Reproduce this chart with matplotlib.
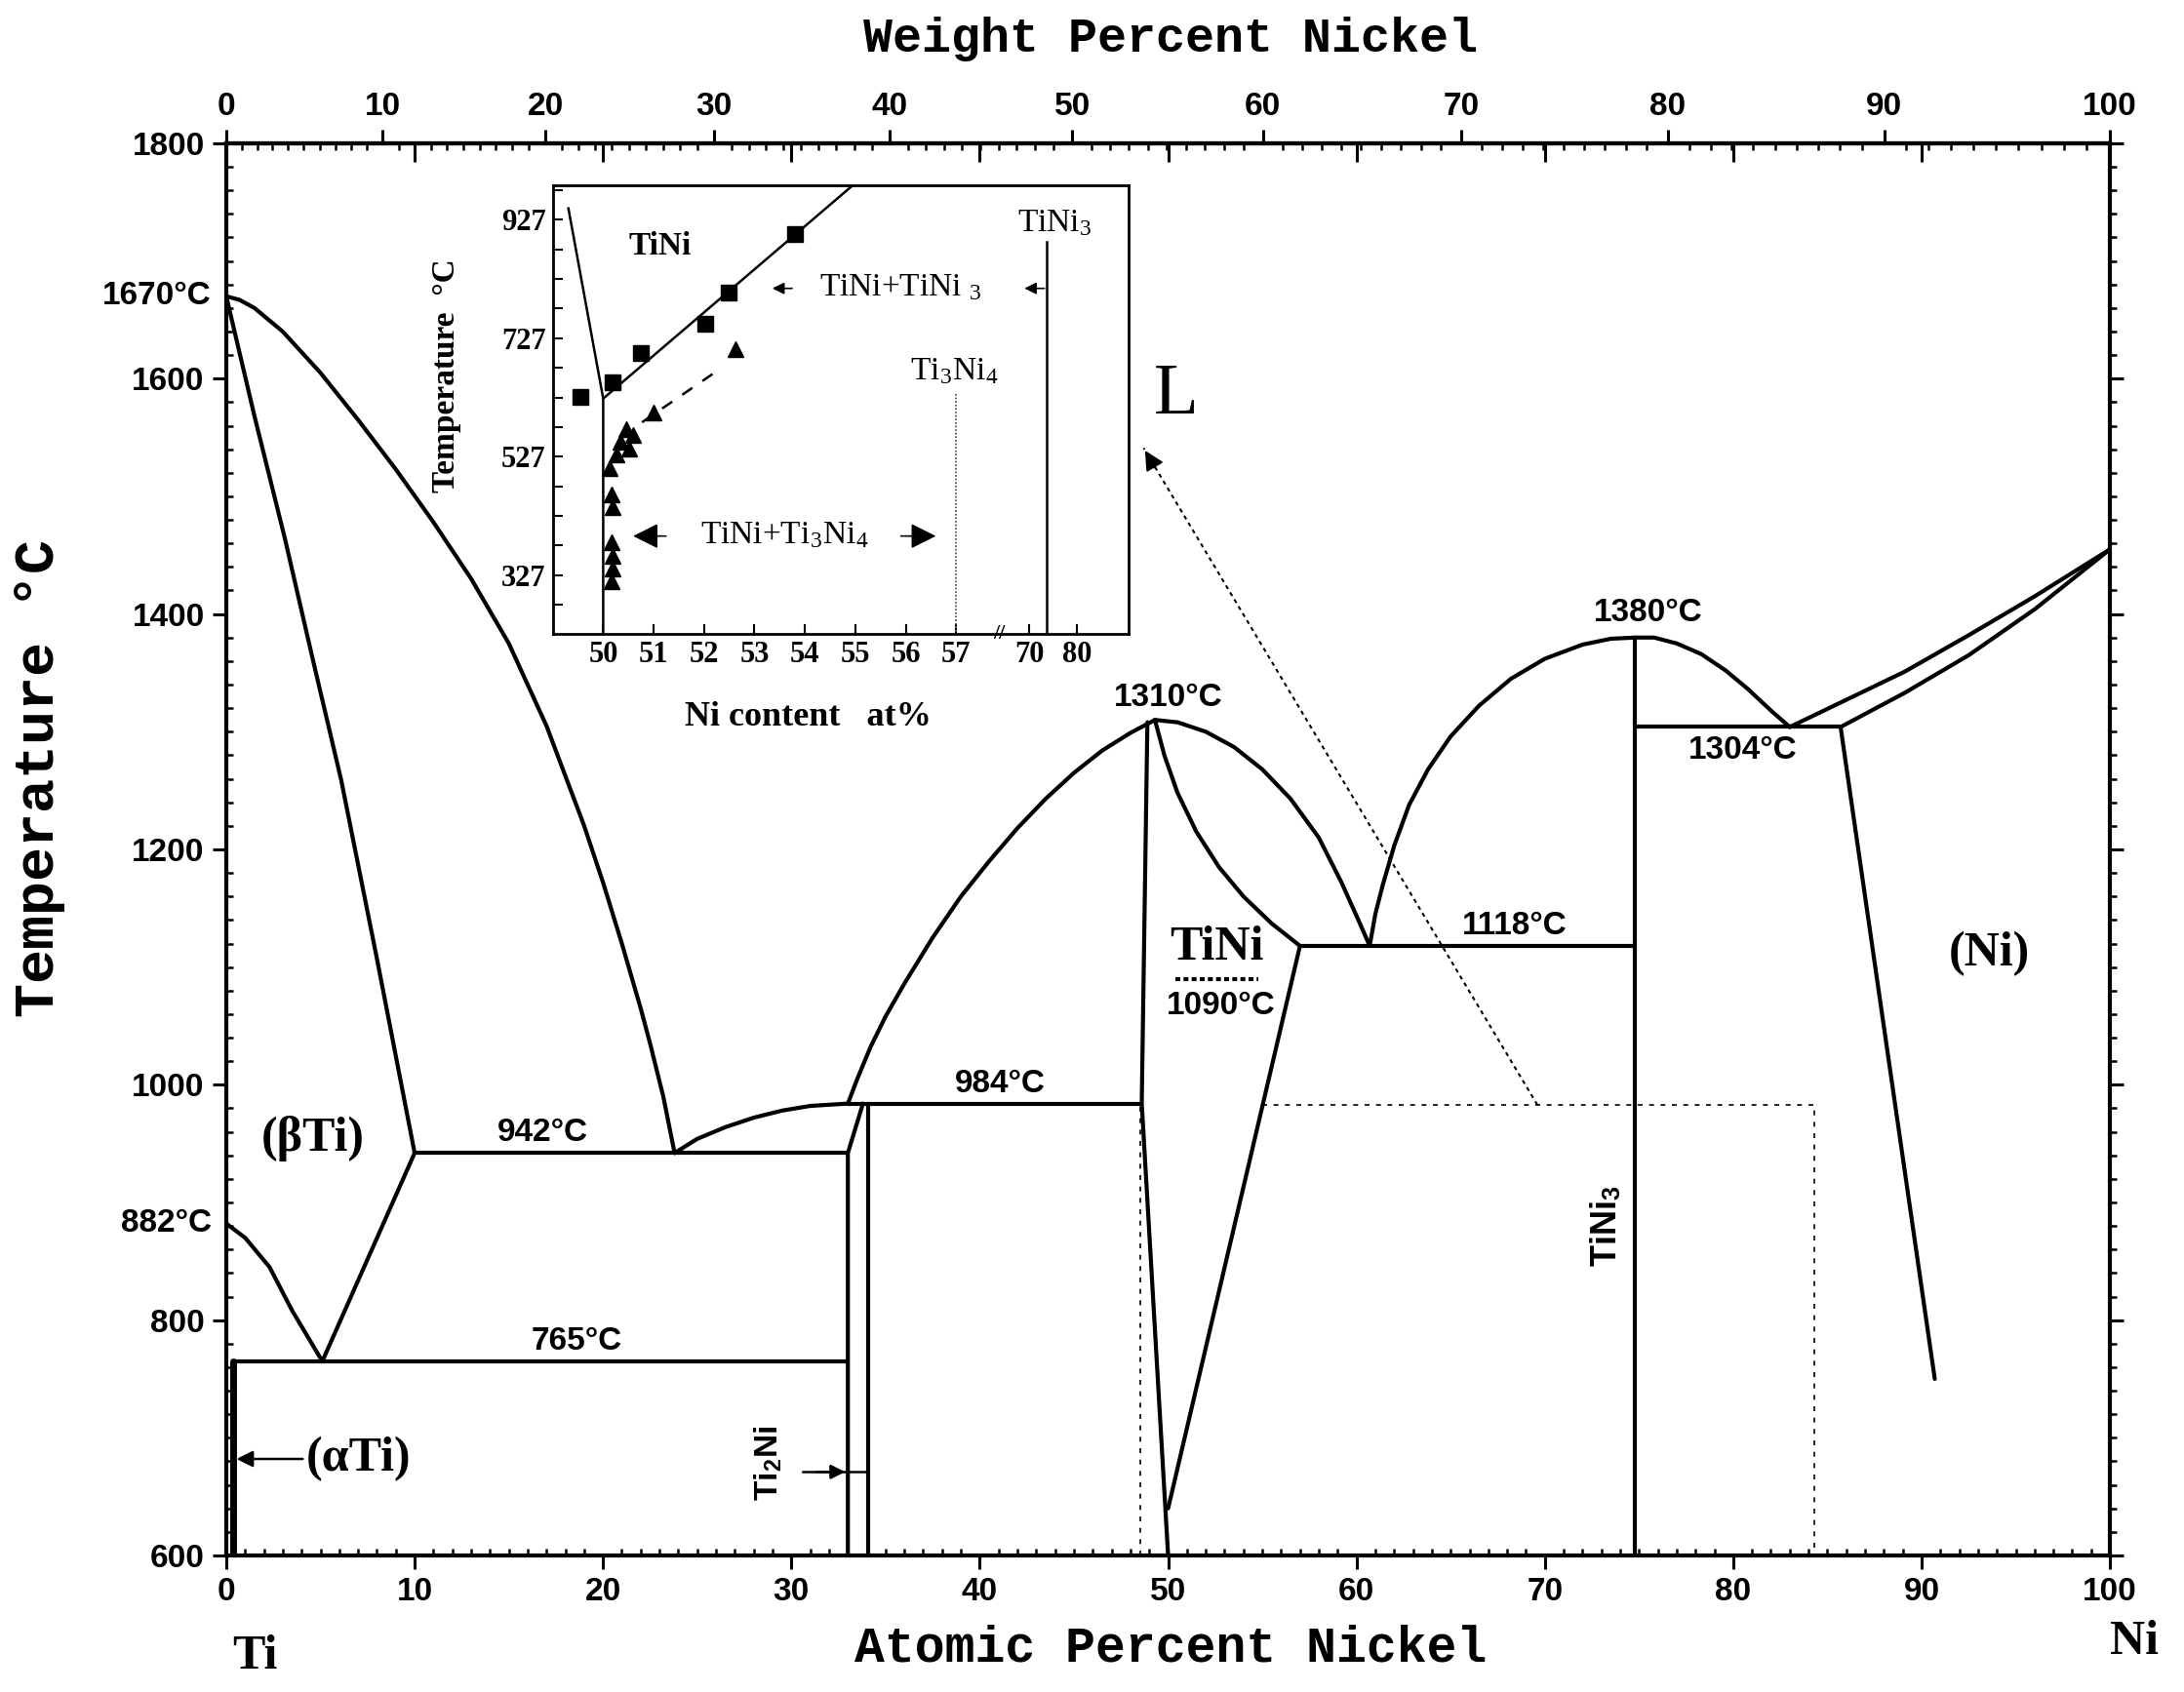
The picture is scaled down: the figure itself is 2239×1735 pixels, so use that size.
import numpy as np
import matplotlib
matplotlib.use('Agg')
import matplotlib.pyplot as plt

plt.rcParams['mathtext.fontset'] = 'stix'

# ---------- main diagram: boundaries in (at.% Ni, deg C) ----------
ti_liq_x = [0, 0.7, 1.5, 3, 5, 7, 9, 11, 13, 15, 17, 19, 20, 21, 22, 22.5, 23.2, 23.8]
ti_liq_t = [1670, 1667, 1660, 1640, 1605, 1565, 1523, 1478, 1430, 1375, 1305, 1220, 1172,
            1120, 1065, 1035, 990, 942]
ti_sol_x = [0, 1.5, 3.1, 4.6, 6.1, 8.0, 10.0]
ti_sol_t = [1670, 1568, 1465, 1361, 1259, 1107, 942]
beta_low_x = [10.0, 5.1]
beta_low_t = [942, 765]
transus_x = [0, 1.0, 2.3, 3.5, 5.1]
transus_t = [882, 870, 845, 808, 765]
eut_liq_x = [23.8, 25, 26.5, 28, 29.5, 31, 33.0]
eut_liq_t = [942, 954, 964, 972, 978, 982, 984]
tini_liq_l_x = [33.0, 33.5, 34.2, 35.0, 36.0, 37.5, 39, 40.5, 42, 43.5, 45, 46.5, 48, 49.3]
tini_liq_l_t = [984, 1005, 1032, 1058, 1086, 1125, 1160, 1190, 1218, 1243, 1265, 1284,
                1299, 1310]
tini_liq_r_x = [49.3, 50.5, 52, 53.5, 55, 56.5, 58, 59.2, 60.1, 60.7]
tini_liq_r_t = [1310, 1308, 1300, 1287, 1268, 1243, 1210, 1172, 1140, 1118]
tini_sol_r_x = [49.3, 49.8, 50.5, 51.5, 52.7, 54, 55.5, 57.0]
tini_sol_r_t = [1310, 1280, 1248, 1215, 1185, 1160, 1137, 1118]
tini_left_x = [48.9, 48.6, 50.0]
tini_left_t = [1308, 984, 600]
tini_v_x = [50.0, 57.0]
tini_v_t = [640, 1118]
ti2ni_l_x = [33.0, 33.0, 33.8]
ti2ni_l_t = [600, 942, 984]
ti2ni_r_x = [34.1, 34.1]
ti2ni_r_t = [600, 984]
tini3_liq_l_x = [60.7, 61.0, 61.4, 62.0, 62.8, 63.8, 65.0, 66.5, 68.2, 70, 72, 73.5, 74.8]
tini3_liq_l_t = [1118, 1145, 1170, 1203, 1238, 1268, 1296, 1322, 1345, 1362, 1374, 1379, 1380]
tini3_liq_r_x = [74.8, 75.8, 77, 78.3, 79.6, 80.8, 82, 83.0]
tini3_liq_r_t = [1380, 1380, 1375, 1366, 1352, 1336, 1318, 1304]
ni_liq_x = [83.0, 85.6, 89.1, 92.5, 96.0, 100]
ni_liq_t = [1304, 1324, 1351, 1382, 1415, 1455]
ni_sol_x = [85.7, 89.1, 92.5, 96.0, 100]
ni_sol_t = [1304, 1333, 1365, 1404, 1455]
ni_solvus_x = [85.7, 90.7]
ni_solvus_t = [1304, 750]

# invariant lines: (x_start, x_end, T)
isotherms = [(10.0, 33.0, 942), (0.35, 33.0, 765), (33.0, 48.6, 984),
             (57.0, 74.8, 1118), (74.8, 85.7, 1304)]
# line compounds / terminal solubility: (x, T_low, T_high)
verticals = [(74.8, 600, 1380), (0.35, 600, 765)]

# dotted frame of the enlarged region and pointer to the inset
frame_left_x = [48.5, 48.5]
frame_left_t = [600, 984]
frame_top_x = [55.0, 84.3, 84.3]
frame_top_t = [983, 983, 600]
pointer_x = [69.6, 48.7]
pointer_t = [983, 1541]

# ---------- inset (position along broken axis u, deg C) ----------
in_tick_u = [0, 1, 2, 3, 4, 5, 6, 7, 8.45, 9.4]
in_tick_lab = ['50', '51', '52', '53', '54', '55', '56', '57', '70', '80']
sq_u = [-0.45, 0.19, 0.74, 2.03, 2.48, 3.81]
sq_t = [628, 653, 702, 752, 804, 902]
tri_u = [2.62, 1.0, 0.6, 0.52, 0.45, 0.35, 0.26, 0.13, 0.16, 0.19, 0.16, 0.19, 0.19, 0.16]
tri_t = [708, 601, 563, 541, 574, 552, 530, 508, 464, 442, 382, 360, 338, 316]
solv_l_u = [-0.69, 0.0, 0.0]
solv_l_t = [946, 625, 228]
solv_r_u = [0.0, 4.95]
solv_r_t = [625, 985]
dash_u = [0.77, 2.35]
dash_t = [585, 677]


def at2wt(a):
    a = np.asarray(a, dtype=float)
    return 100 * a * 58.69 / (a * 58.69 + (100 - a) * 47.87)


def wt2at(w):
    w = np.asarray(w, dtype=float)
    return 100 * (w / 58.69) / (w / 58.69 + (100 - w) / 47.87)


fig = plt.figure(figsize=(22.39, 17.35), dpi=100)
ax = fig.add_axes([0.1036, 0.0807, 0.8625, 0.8346])

LW = 3.0


def line(xs, ts, lw=LW, **kw):
    ax.plot(xs, ts, color='k', lw=lw, solid_joinstyle='round',
            solid_capstyle='round', **kw)


for xs, ts in [(ti_liq_x, ti_liq_t), (ti_sol_x, ti_sol_t), (beta_low_x, beta_low_t),
               (transus_x, transus_t), (eut_liq_x, eut_liq_t),
               (tini_liq_l_x, tini_liq_l_t), (tini_liq_r_x, tini_liq_r_t),
               (tini_sol_r_x, tini_sol_r_t), (tini_left_x, tini_left_t),
               (tini_v_x, tini_v_t), (ti2ni_l_x, ti2ni_l_t), (ti2ni_r_x, ti2ni_r_t),
               (tini3_liq_l_x, tini3_liq_l_t), (tini3_liq_r_x, tini3_liq_r_t),
               (ni_liq_x, ni_liq_t), (ni_sol_x, ni_sol_t), (ni_solvus_x, ni_solvus_t)]:
    line(xs, ts)

for x0, x1, t in isotherms:
    line([x0, x1], [t, t])
for x, t0, t1 in verticals:
    line([x, x], [t0, t1], lw=LW if x > 1 else 5)

ax.plot(frame_left_x, frame_left_t, color='k', lw=1.2, ls=(0, (3, 4)))
ax.plot(frame_top_x, frame_top_t, color='k', lw=1.2, ls=(0, (3, 4)))
ax.plot(pointer_x, pointer_t, color='k', lw=1.5, ls=(0, (2, 2)))
ax.annotate('', xy=(pointer_x[1], pointer_t[1]), xytext=(49.4, 1522),
            arrowprops=dict(arrowstyle='-|>', color='k', lw=1.5, mutation_scale=30))

# ---------- axes, ticks ----------
ax.set_xlim(0, 100)
ax.set_ylim(600, 1800)
ax.set_xticks(range(0, 101, 10))
ax.set_xticks(range(0, 101, 1), minor=True)
ax.set_yticks(range(600, 1801, 200))
ax.set_yticks(range(600, 1801, 20), minor=True)
ax.set_yticklabels([str(v) for v in range(600, 1801, 200)])
ax.tick_params(which='major', direction='out', length=10, width=2.2, pad=6,
               labelsize=24)
ax.tick_params(which='minor', direction='in', length=5, width=1.8)
for lab in ax.get_xticklabels() + ax.get_yticklabels():
    lab.set_fontfamily('Liberation Sans')
    lab.set_fontweight('bold')
for s in ax.spines.values():
    s.set_linewidth(3)

top_at = ax.secondary_xaxis('top')
top_at.set_xticks(range(10, 100, 10))
top_at.tick_params(direction='in', length=14, width=2.2, labeltop=False)
top_at.spines['top'].set_linewidth(3)

top_wt = ax.secondary_xaxis('top', functions=(at2wt, wt2at))
top_wt.set_xticks(range(0, 101, 10))
top_wt.set_xticks(range(0, 101, 1), minor=True)
top_wt.tick_params(which='major', direction='out', length=10, width=2.2, pad=6,
                   labelsize=24)
top_wt.tick_params(which='minor', direction='in', length=5, width=1.8)
for lab in top_wt.get_xticklabels():
    lab.set_fontfamily('Liberation Sans')
    lab.set_fontweight('bold')

right = ax.secondary_yaxis('right')
right.set_yticks(range(600, 1801, 200))
right.set_yticks(range(600, 1801, 20), minor=True)
right.tick_params(which='major', direction='out', length=10, width=2.2, labelright=False)
right.tick_params(which='minor', direction='out', length=5, width=1.8)

# ---------- labels on the main diagram ----------
SANS = dict(family='Liberation Sans', weight='bold', size=24)
SERIF = dict(family='Liberation Serif', weight='bold', size=36)

ax.text(-0.8, 1670, '1670°C', ha='right', va='center', clip_on=False, **SANS)
ax.text(-0.8, 882, '882°C', ha='right', va='center', clip_on=False, **SANS)
ax.text(16.8, 946, '942°C', ha='center', va='bottom', **SANS)
ax.text(18.6, 769, '765°C', ha='center', va='bottom', **SANS)
ax.text(41.1, 988, '984°C', ha='center', va='bottom', **SANS)
ax.text(50.0, 1316, '1310°C', ha='center', va='bottom', **SANS)
ax.text(68.4, 1122, '1118°C', ha='center', va='bottom', **SANS)
ax.text(75.5, 1388, '1380°C', ha='center', va='bottom', **SANS)
ax.text(80.5, 1297, '1304°C', ha='center', va='top', **SANS)
ax.text(52.8, 1067, '1090°C', ha='center', va='center', zorder=5,
        bbox=dict(facecolor='white', edgecolor='none', pad=1), **SANS)
ax.text(52.6, 1116, 'TiNi', ha='center', va='center', zorder=5,
        bbox=dict(facecolor='white', edgecolor='none', pad=1), **SERIF)
ax.plot([50.4, 54.8], [1090, 1090], color='k', lw=3, ls=(0, (1.2, 0.8)), zorder=6)
ax.text(4.6, 954, '(βTi)', ha='center', va='center', **SERIF)
ax.text(7.0, 682, '(αTi)', ha='center', va='center', **SERIF)
ax.annotate('', xy=(0.4, 682), xytext=(4.2, 682),
            arrowprops=dict(arrowstyle='-|>', color='k', lw=1.8, mutation_scale=25))
ax.text(28.8, 679, r'Ti$_\mathregular{2}$Ni', rotation=90, ha='center', va='center', **SANS)
ax.plot([30.6, 34.1], [671, 671], color='k', lw=1.8)
ax.annotate('', xy=(33.0, 671), xytext=(31.2, 671),
            arrowprops=dict(arrowstyle='-|>', color='k', lw=1.8, mutation_scale=22))
ax.text(73.3, 880, r'TiNi$_\mathregular{3}$', rotation=90, ha='center', va='center',
        family='Liberation Sans', weight='bold', size=26)
ax.text(93.6, 1111, '(Ni)', ha='center', va='center', **SERIF)
ax.text(50.4, 1585, 'L', ha='center', va='center', family='Liberation Serif', size=54)
ax.text(1.5, 514, 'Ti', ha='center', va='center', clip_on=False, **SERIF)
ax.text(101.3, 526, 'Ni', ha='center', va='center', clip_on=False, **SERIF)

MONO = dict(family='Liberation Mono', weight='bold')
fig.text(0.536, 0.977, 'Weight Percent Nickel', ha='center', va='center', size=36, **MONO)
fig.text(0.536, 0.026, 'Atomic Percent Nickel', ha='center', va='center', size=37, **MONO)
fig.text(0.018, 0.54, 'Temperature °C', rotation=90, ha='center', va='center', size=42,
         **MONO)

# ---------- inset ----------
axi = fig.add_axes([0.2531, 0.6254, 0.2637, 0.2651])
axi.set_xlim(-1.0, 10.42)
axi.set_ylim(228, 985)
axi.plot(solv_l_u, solv_l_t, color='k', lw=1.8)
axi.plot(solv_r_u, solv_r_t, color='k', lw=1.8)
axi.plot(dash_u, dash_t, color='k', lw=1.8, ls=(0, (5, 5)))
axi.plot([8.8, 8.8], [890, 228], color='k', lw=1.8)
axi.plot([7.0, 7.0], [633, 228], color='0.35', lw=1.3, ls=(0, (1, 1)))
axi.plot(sq_u, sq_t, 's', color='k', ms=11)
axi.plot(tri_u, tri_t, '^', color='k', ms=12)

axi.set_xticks(in_tick_u)
axi.set_xticklabels(in_tick_lab)
axi.set_yticks([327, 527, 727, 927])
axi.set_yticks(range(277, 985, 50), minor=True)
axi.tick_params(which='both', direction='in', length=7, width=1.5, labelsize=22, pad=5)
for lab in axi.get_xticklabels() + axi.get_yticklabels():
    lab.set_fontfamily('Liberation Serif')
    lab.set_fontweight('bold')
for s in axi.spines.values():
    s.set_linewidth(2)

IN_SERIF = dict(family='Liberation Serif', size=24)
axi.text(1.12, 882, 'TiNi', ha='center', va='center', family='Liberation Serif',
         weight='bold', size=24)
axi.text(8.96, 921, r'TiNi$_\mathregular{3}$', ha='center', va='center', **IN_SERIF)
axi.text(6.96, 671, r'Ti$_\mathregular{3}$Ni$_\mathregular{4}$', ha='center', va='center', **IN_SERIF)
axi.text(5.9, 811, r'TiNi+TiNi $_\mathregular{3}$', ha='center', va='center', **IN_SERIF)
axi.annotate('', xy=(3.3, 811), xytext=(3.8, 811),
             arrowprops=dict(arrowstyle='-|>', color='k', lw=1.2, mutation_scale=18))
axi.annotate('', xy=(8.3, 811), xytext=(8.8, 811),
             arrowprops=dict(arrowstyle='-|>', color='k', lw=1.2, mutation_scale=18))
axi.text(3.6, 393, r'TiNi+Ti$_\mathregular{3}$Ni$_\mathregular{4}$', ha='center', va='center',
         **IN_SERIF)
axi.annotate('', xy=(0.54, 393), xytext=(1.3, 393),
             arrowprops=dict(arrowstyle='-|>', color='k', lw=1.2, mutation_scale=40))
axi.annotate('', xy=(6.65, 393), xytext=(5.85, 393),
             arrowprops=dict(arrowstyle='-|>', color='k', lw=1.2, mutation_scale=40))
axi.text(7.85, 228, '//', ha='center', va='center', clip_on=False,
         family='Liberation Serif', weight='bold', size=16)

fig.text(0.2045, 0.778, 'Temperature  °C', rotation=90, ha='center', va='center',
         family='Liberation Serif', weight='bold', size=24)
fig.text(0.370, 0.576, 'Ni content   at%', ha='center', va='center',
         family='Liberation Serif', weight='bold', size=26)

fig.savefig('out.png', dpi=100)
